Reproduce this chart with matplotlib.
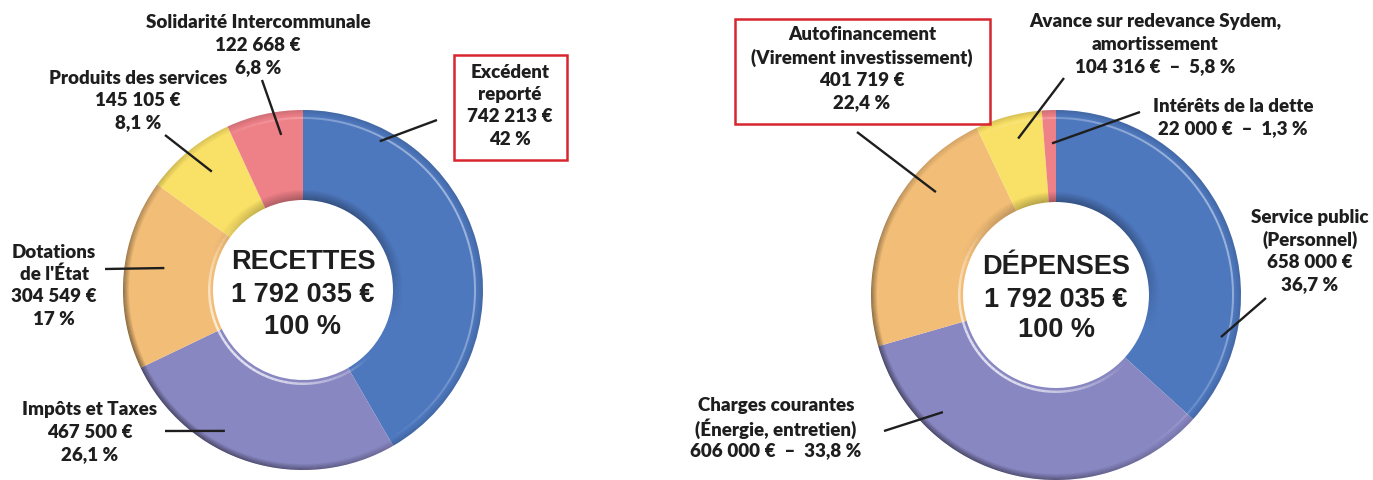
import matplotlib.pyplot as plt
from matplotlib.patches import Wedge, Rectangle
import numpy as np

W, H = 1373, 480

# data
recettes_names = ["Excédent\nreporté", "Impôts et Taxes", "Dotations\nde l'État",
                  "Produits des services", "Solidarité Intercommunale"]
recettes_values = [742213, 467500, 304549, 145105, 122668]
recettes_pct = ["42 %", "26,1 %", "17 %", "8,1 %", "6,8 %"]
recettes_inline = [False, False, False, False, False]
recettes_total = "1 792 035 €"

depenses_names = ["Service public\n(Personnel)", "Charges courantes\n(Énergie, entretien)",
                  "Autofinancement\n(Virement investissement)",
                  "Avance sur redevance Sydem,\namortissement", "Intérêts de la dette"]
depenses_values = [658000, 606000, 401719, 104316, 22000]
depenses_pct = ["36,7 %", "33,8 %", "22,4 %", "5,8 %", "1,3 %"]
depenses_inline = [False, True, False, True, True]
depenses_total = "1 792 035 €"

colors = ["#4e78be", "#8987c2", "#f2bd77", "#f9e066", "#ee8088"]

# layout: text centre x, first line y, leader anchor (angle, radius frac), leader end
left_layout = dict(
    center=(303, 290), r=180, hole=90,
    text=[(510, 72), (90, 410), (54, 252), (138, 78), (258, 23)],
    anchor=[(62.7, 0.93), (241, 0.895), (171, 0.78), (127.6, 0.83), (98, 0.87)],
    end=[(437, 120), (165, 431), (105, 269), (165, 135), (262, 80)],
    box=[(454, 55, 567, 160), None, None, None, None],
    title="RECETTES", title_y=(262, 295, 327))
right_layout = dict(
    center=(1056, 295), r=185, hole=93,
    text=[(1310, 217), (776, 406), (862, 35), (1155, 22), (1233, 106)],
    anchor=[(-14.3, 0.92), (226, 0.88), (139.4, 0.855), (103.6, 0.87), (91.5, 0.82)],
    end=[(1266, 298), (884, 431), (857, 132), (1064, 78), (1140, 112)],
    box=[None, None, (735, 19, 990, 124), None, None],
    title="DÉPENSES", title_y=(267, 300, 330))

LABEL_FONT = ["Lato", "DejaVu Sans"]
CENTER_FONT = ["Liberation Sans", "DejaVu Sans"]
INK = "#1e1e1e"
LINE_STEP = 22.5
NB = "\u202f"


def money(v):
    return f"{v:,}".replace(",", NB) + NB + "€"


def bevel(ax, cx, cy, r_out, r_in):
    for t0 in range(0, 360, 3):
        th = np.radians(t0 + 1.5)
        dark = 0.12 + 0.35 * max(0.0, np.cos(th - np.radians(220)))
        for k in range(6):
            ax.add_patch(Wedge((cx, cy), r_out - k, t0, t0 + 3, width=1,
                               fc="black", ec="none", alpha=dark * (1 - k / 6)))
        top = max(0.0, np.cos(th - np.radians(70)))
        for k in range(10):
            ax.add_patch(Wedge((cx, cy), r_in + k + 1, t0, t0 + 3, width=1,
                               fc="black", ec="none", alpha=0.32 * top * (1 - k / 10)))
        glow = max(0.0, np.cos(th - np.radians(225)))
        if glow > 0:
            ax.add_patch(Wedge((cx, cy), r_in + 5, t0, t0 + 3, width=2.5,
                               fc="white", ec="none", alpha=0.75 * glow))
        shine = max(0.0, np.cos(th - np.radians(30)))
        if shine > 0:
            ax.add_patch(Wedge((cx, cy), r_out - 7, t0, t0 + 3, width=2,
                               fc="white", ec="none", alpha=0.45 * shine))


def donut(ax, names, values, pct, inline, total, lay):
    cx, cy = lay["center"][0], H - lay["center"][1]
    ax.pie(values, colors=colors, startangle=90, counterclock=False,
           radius=lay["r"], center=(cx, cy),
           wedgeprops=dict(width=lay["r"] - lay["hole"], linewidth=0))
    bevel(ax, cx, cy, lay["r"], lay["hole"])

    for i, name in enumerate(names):
        if inline[i]:
            lines = name.split("\n") + [money(values[i]) + "  –  " + pct[i]]
        else:
            lines = name.split("\n") + [money(values[i]), pct[i]]
        tx, ty = lay["text"][i]
        for j, line in enumerate(lines):
            ax.text(tx, H - (ty + j * LINE_STEP), line, ha="center", va="center",
                    fontsize=13.5, fontweight="heavy", family=LABEL_FONT, color=INK)
        ang, rf = lay["anchor"][i]
        x_in = cx + rf * lay["r"] * np.cos(np.radians(ang))
        y_in = cy + rf * lay["r"] * np.sin(np.radians(ang))
        ex, ey = lay["end"][i]
        ax.plot([x_in, ex], [y_in, H - ey], color=INK, lw=1.7, solid_capstyle="butt")
        if lay["box"][i] is not None:
            x0, y0, x1, y1 = lay["box"][i]
            ax.add_patch(Rectangle((x0, H - y1), x1 - x0, y1 - y0, fill=False,
                                   ec="#d7262e", lw=1.8))

    for line, y in zip([lay["title"], total, "100 %"], lay["title_y"]):
        ax.text(cx, H - y, line, ha="center", va="center", fontsize=19.5,
                fontweight="bold", family=CENTER_FONT, color=INK)


fig = plt.figure(figsize=(W / 100, H / 100), dpi=100)
ax = fig.add_axes([0, 0, 1, 1])
donut(ax, recettes_names, recettes_values, recettes_pct, recettes_inline,
      recettes_total, left_layout)
donut(ax, depenses_names, depenses_values, depenses_pct, depenses_inline,
      depenses_total, right_layout)
ax.set_xlim(0, W)
ax.set_ylim(0, H)
ax.set_aspect("equal")
ax.axis("off")
fig.savefig("out.png", dpi=100)
